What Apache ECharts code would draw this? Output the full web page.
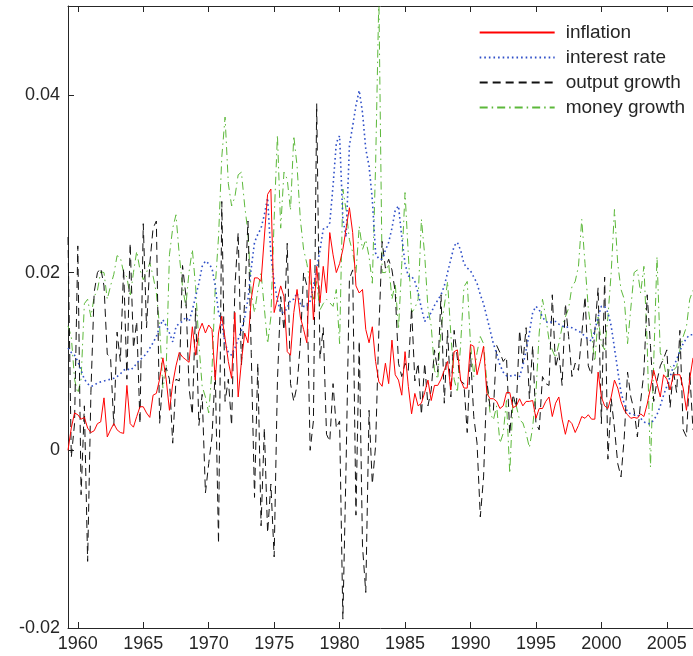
<!DOCTYPE html>
<html>
<head>
<meta charset="utf-8">
<script src="https://cdn.jsdelivr.net/npm/echarts@6/dist/echarts.min.js"></script>
<style>
  html, body { margin: 0; padding: 0; background: #fff; }
  #chart { width: 693px; height: 656px; }
</style>
</head>
<body>
<div id="chart"></div>
<script>
// quarterly series, 1959Q2 .. 2007Q1, values in units of 0.001
const firstQuarter = 1959.25
const inflation = [
  0, 2.5, 4.2, 4.0, 3.5, 3.7, 2.5, 2.0, 2.2, 3.0,
  3.2, 5.9, 1.5, 2.3, 3.0, 2.3, 2.0, 1.9, 7.3, 3.0,
  2.6, 3.8, 4.9, 4.9, 4.2, 3.7, 6.2, 6.4, 8.0, 10.4,
  8.0, 4.5, 7.5, 9.5, 11.0, 10.5, 10.2, 9.9, 13.9, 10.7,
  13.4, 14.3, 13.2, 14.1, 13.6, 7.9, 13.2, 15.1, 12.6, 10.0,
  8.1, 15.5, 6.0, 10.0, 13.2, 12.1, 17.0, 19.4, 19.4, 19.0,
  24.0, 28.8, 29.4, 15.5, 17.0, 18.5, 17.3, 11.1, 10.7, 15.5,
  18.1, 15.0, 13.6, 12.1, 21.5, 14.7, 20.7, 16.6, 20.7, 17.7,
  24.5, 22.0, 20.0, 21.0, 22.6, 25.0, 27.3, 24.5, 18.5, 17.7,
  18.1, 13.6, 12.1, 13.9, 10.0, 7.7, 7.2, 9.8, 7.5, 12.4,
  8.5, 7.9, 6.2, 11.1, 7.2, 4.1, 6.4, 5.0, 5.3, 6.5,
  7.9, 5.6, 7.3, 7.3, 8.0, 9.0, 10.0, 6.8, 11.1, 11.3,
  7.9, 7.0, 7.0, 11.9, 11.7, 8.5, 10.0, 11.7, 6.4, 5.8,
  5.8, 5.5, 4.7, 5.0, 6.5, 6.5, 4.8, 5.0, 5.8, 5.0,
  5.5, 5.5, 5.6, 3.6, 4.7, 4.7, 5.5, 6.0, 3.8, 5.3,
  6.0, 3.5, 1.8, 3.4, 3.0, 2.0, 2.8, 3.8, 3.6, 4.0,
  3.5, 3.5, 8.8, 6.0, 5.0, 4.7, 6.0, 7.9, 7.0, 5.5,
  4.5, 4.0, 3.6, 3.7, 3.6, 4.1, 3.8, 5.2, 7.0, 9.0,
  7.5, 6.0, 8.5, 8.0, 6.8, 8.5, 8.5, 8.5, 7.0, 4.5,
  8.0, 10.4
]
const interestRate = [
  11.5, 11.0, 10.7, 10.0, 9.0, 8.0, 7.5, 7.2, 7.3, 7.6,
  7.7, 7.8, 7.9, 8.0, 8.1, 8.3, 8.6, 9.0, 9.2, 9.0,
  9.3, 9.8, 10.2, 10.5, 10.9, 11.5, 12.1, 12.8, 13.9, 14.7,
  14.0, 13.2, 12.2, 13.9, 14.3, 14.5, 15.0, 14.5, 15.8, 17.3,
  18.8, 20.7, 21.3, 21.0, 20.5, 18.5, 15.5, 14.3, 12.0, 11.0,
  10.7, 11.5, 12.5, 13.5, 15.0, 17.0, 20.5, 23.4, 24.3, 25.0,
  26.5, 28.4, 22.0, 19.0, 16.9, 15.5, 15.5, 16.0, 16.9, 17.0,
  17.7, 16.5, 16.2, 16.2, 16.8, 18.5, 20.5, 22.5, 24.9, 25.0,
  25.6, 29.8, 34.6, 35.4, 26.0, 24.0, 34.3, 36.5, 38.8, 40.5,
  38.0, 33.9, 32.0, 28.2, 22.2, 21.5, 21.5, 22.5, 23.4, 25.0,
  27.0, 27.5, 24.0, 21.0, 19.6, 19.6, 19.0, 17.7, 16.0, 14.5,
  15.0, 15.5, 16.3, 16.9, 17.5, 18.5, 20.0, 21.5, 23.0, 23.4,
  22.5, 21.0, 20.5, 20.2, 19.5, 18.8, 17.5, 16.5, 15.0, 13.5,
  12.0, 10.9, 9.6, 8.8, 8.4, 8.3, 8.5, 8.4, 8.3, 9.5,
  11.3, 13.2, 15.5, 16.2, 15.8, 15.0, 14.5, 14.3, 14.5, 14.5,
  14.2, 14.0, 13.8, 13.9, 13.8, 13.6, 13.4, 13.2, 12.8, 12.5,
  12.3, 13.5, 15.0, 16.2, 16.2, 15.5, 14.0, 11.5, 9.0, 6.5,
  5.2, 4.3, 4.1, 4.0, 4.0, 3.6, 3.2, 3.0, 3.0, 3.4,
  4.0, 5.0, 6.2, 7.2, 8.3, 9.4, 10.2, 11.2, 12.0, 12.6,
  13.0, 13.0
]
const outputGrowth = [
  24, -0.8, 3, 23, -5, 5, -12.5, 6.5, 17.8, 20,
  20.5, 18.5, 10.8, 10.5, 2.8, 13.3, 10, 20.5, 8, 23.3,
  11.5, 14.5, 3, 25.5, 13.8, 21, 25, 25.8, 3, 8.3,
  9.3, 8, 0.8, 8, 7.8, 20.8, 17.5, 7, 4, 16,
  2.8, 6.3, -4.8, -1.5, 1.5, 9, -10.5, 28, 5.5, 8,
  2.8, 18.3, 24.5, 9.5, 17, 25.8, 11, -5.3, 9.8, -8.5,
  2.5, -9.3, -3.8, -12, 7.8, 17.3, 13.5, 23.3, 7.5, 5.5,
  7.3, 12, 20, 18.5, 0, 3.3, 39, 10.3, 13.8, 1.8,
  1, 7.5, 2.5, 3.3, -19, -1.3, 19.3, 20.3, -7.3, 12.3,
  -10.8, -16, 4.5, -3.8, 0.5, 13.5, 23.5, 20.5, 21.5, 20.3,
  17.8, 9.8, 8.3, 9.8, 9, 16, 7.8, 9.8, 4, 9.8,
  5, 6.8, 11.3, 8.8, 17.5, 5.3, 13.5, 6, 13.5, 10.3,
  7.8, 7.5, 2, 11, 3.8, 0.8, -7.5, -3, 7.8, 4.8,
  4.5, 11.8, 11, 10, 10.5, 1.8, 6.3, 4.8, 13.5, 9.8,
  13.8, 5.8, 11.8, 3, 2.3, 8.3, 7.5, 7.3, 17.5, 9.3,
  11, 7.3, 16.5, 12.8, 8.3, 9.8, 9, 13, 17.3, 9.5,
  8.5, 13.5, 18.3, 3, 19.5, -1, 5.8, 2.5, -1.5, -3,
  1.5, 8.8, 6, 4.5, 1.5, 5.5, 8.8, 17.5, 11.8, 5.5,
  7.8, 9.5, 10.3, 11.3, 4.8, 9, 6.5, 13.5, 2.3, 1.5,
  8.8, 2.3
]
const moneyGrowth = [
  14.0, 12.8, 8.0, 6.4, 8.0, 16.5, 17.0, 15.0, 17.3, 18.0,
  20.1, 20.0, 17.0, 18.5, 19.8, 21.9, 21.7, 20.0, 19.5, 17.3,
  20.0, 22.4, 20.3, 19.2, 20.0, 21.1, 19.6, 17.7, 13.9, 7.0,
  9.0, 22.0, 25.0, 26.5, 22.0, 18.4, 16.2, 20.1, 22.6, 18.4,
  12.0, 7.2, 6.0, 4.2, 9.0, 18.4, 24.0, 33.0, 37.5, 30.0,
  27.5, 28.5, 31.0, 31.3, 27.5, 24.5, 17.7, 15.5, 18.0, 20.0,
  16.0, 12.0, 15.0, 26.0, 35.5, 25.0, 31.3, 30.5, 27.0, 35.4,
  32.0, 26.0, 22.6, 21.0, 18.8, 17.0, 19.0, 15.8, 16.5, 17.0,
  16.6, 16.2, 18.1, 12.0, 29.4, 27.0, 23.7, 22.3, 20.0, 25.2,
  22.6, 23.7, 21.8, 18.8, 32.0, 51.0, 20.0, 20.0, 21.0, 17.0,
  18.8, 13.6, 21.0, 29.0, 22.0, 15.5, 16.0, 17.0, 26.0, 22.0,
  16.0, 14.0, 9.0, 8.0, 13.9, 16.2, 19.0, 13.0, 8.0, 6.5,
  12.0, 18.4, 19.0, 12.0, 8.3, 11.0, 12.8, 12.0, 7.6, 4.2,
  3.4, 5.0, 0.8, 1.9, 5.6, -2.6, 5.6, 5.0, 3.4, 3.1,
  1.9, 0.3, 2.6, 6.4, 13.2, 17.0, 15.0, 12.4, 11.3, 10.4,
  12.0, 13.9, 15.0, 16.0, 18.4, 19.0, 20.7, 26.0, 21.0, 16.0,
  13.0, 10.0, 15.0, 12.0, 11.3, 15.0, 20.0, 27.1, 21.0, 18.1,
  17.0, 12.0, 16.0, 20.0, 20.3, 17.7, 20.7, 12.0, -1.9, 10.0,
  21.8, 11.0, 10.0, 8.0, 9.5, 9.0, 9.4, 11.3, 12.8, 13.9,
  17.0, 18.0
]
const yearTicks = [1960, 1965, 1970, 1975, 1980, 1985, 1990, 1995, 2000, 2005]

const axisColor = '#262626'
const fontFamily = '"Liberation Sans", Arial, Helvetica, sans-serif'

// pair each quarterly value with its date
function toPoints (values) {
  return values.map((v, i) => [firstQuarter + i * 0.25, v / 1000])
}

let chart = echarts.init(document.getElementById('chart'), null, { renderer: 'canvas' })

const xCommon = {
  type: 'value',
  min: firstQuarter,
  max: firstQuarter + (inflation.length - 1) * 0.25,
  splitLine: { show: false },
  axisLine: { show: true, onZero: false, lineStyle: { color: axisColor, width: 1 } },
  axisTick: { show: true, inside: true, length: 6, customValues: yearTicks, lineStyle: { color: axisColor } }
}

chart.setOption({
  animation: false,
  backgroundColor: '#fff',
  grid: { left: 68, right: 0, top: 6, bottom: 28, containLabel: false },
  legend: {
    orient: 'vertical',
    right: 3,
    top: 18,
    itemWidth: 75,
    itemHeight: 12,
    itemGap: 6,
    itemStyle: { opacity: 0 },
    textStyle: { fontSize: 19, color: axisColor, fontFamily: fontFamily, padding: [0, 0, 0, 6] },
    data: ['inflation', 'interest rate', 'output growth', 'money growth']
  },
  xAxis: [
    Object.assign({}, xCommon, {
      position: 'bottom',
      axisLabel: {
        show: true,
        customValues: yearTicks,
        margin: 7,
        fontSize: 18,
        color: axisColor,
        fontFamily: fontFamily,
        formatter: v => String(Math.round(v))
      }
    }),
    Object.assign({}, xCommon, {
      position: 'top',
      axisLabel: { show: false }
    })
  ],
  yAxis: {
    type: 'value',
    min: -0.02,
    max: 0.05,
    interval: 0.02,
    splitLine: { show: false },
    axisLine: { show: true, onZero: false, lineStyle: { color: axisColor, width: 1 } },
    axisTick: { show: true, inside: true, length: 6, lineStyle: { color: axisColor } },
    axisLabel: {
      showMaxLabel: false,
      margin: 8,
      fontSize: 18,
      color: axisColor,
      fontFamily: fontFamily,
      formatter: v => Math.abs(v) < 1e-9 ? '0' : v.toFixed(2)
    }
  },
  series: [
    {
      name: 'inflation',
      type: 'line',
      symbol: 'none',
      clip: true,
      z: 5,
      itemStyle: { color: '#ff0000' },
      lineStyle: { color: '#ff0000', width: 1 },
      data: toPoints(inflation)
    },
    {
      name: 'interest rate',
      type: 'line',
      symbol: 'none',
      clip: true,
      z: 4,
      itemStyle: { color: '#2f4fc8' },
      lineStyle: { color: '#2f4fc8', width: 1.6, type: [1.6, 3] },
      data: toPoints(interestRate)
    },
    {
      name: 'output growth',
      type: 'line',
      symbol: 'none',
      clip: true,
      z: 3,
      itemStyle: { color: '#111' },
      lineStyle: { color: '#111', width: 1, type: [8, 5] },
      data: toPoints(outputGrowth)
    },
    {
      name: 'money growth',
      type: 'line',
      symbol: 'none',
      clip: true,
      z: 2,
      itemStyle: { color: '#5cb83a' },
      lineStyle: { color: '#5cb83a', width: 1, type: [8, 4, 1.5, 4] },
      data: toPoints(moneyGrowth)
    }
  ]
})
</script>
</body>
</html>
